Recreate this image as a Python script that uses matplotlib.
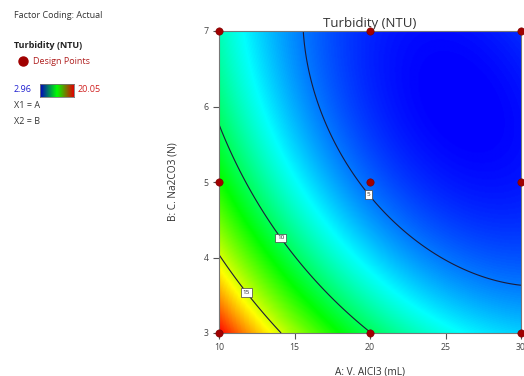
import numpy as np
import matplotlib
matplotlib.use("Agg")
import matplotlib.pyplot as plt
from matplotlib.colors import LinearSegmentedColormap

plt.rcParams['font.family'] = ['Open Sans', 'DejaVu Sans']

# ---- data ----
title = "Turbidity (NTU)"
x_label = "A: V. AlCl3 (mL)"
y_label = "B: C. Na2CO3 (N)"
x_ticks = [10, 15, 20, 25, 30]
y_ticks = [3, 4, 5, 6, 7]
design_a = [10, 20, 30, 10, 20, 30, 10, 20, 30]
design_b = [3, 3, 3, 5, 5, 5, 7, 7, 7]
y_min, y_max = 2.96, 20.05
contour_levels = [5, 10, 15]
label_a = [19.87, 14.24, 11.85]
label_b = [4.83, 4.28, 3.54]

# readings of the response surface (A, B, Y) taken from contours / colours
read_a = [10, 11.85, 13.97,
          10, 11.4, 14.24, 16.7, 20.1,
          15.41, 16.24, 16.69, 19.87, 23.31, 25.52, 27.73, 29.93,
          10, 10, 30, 30, 26, 27, 24, 20, 30]
read_b = [3.99, 3.54, 3.0,
          5.78, 5.16, 4.28, 3.70, 3.0,
          7.0, 6.2, 5.75, 4.83, 4.08, 3.88, 3.72, 3.66,
          3, 7, 3, 7, 6.2, 5.5, 6.8, 7, 5]
read_y = [15, 15, 15,
          10, 10, 10, 10, 10,
          5, 5, 5, 5, 5, 5, 5, 5,
          20.05, 8.5, 6.5, 3.6, 2.96, 3.1, 3.2, 3.6, 3.3]


def terms(a, b):
    x1 = (np.asarray(a) - 20) / 10
    x2 = (np.asarray(b) - 5) / 2
    return np.stack([np.ones_like(x1), x1, x2, x1 * x2, x1 ** 2, x2 ** 2,
                     x1 ** 2 * x2, x1 * x2 ** 2, x1 ** 3, x2 ** 3], axis=-1)


coef, *_ = np.linalg.lstsq(terms(read_a, read_b), np.asarray(read_y, float), rcond=None)

fig = plt.figure(figsize=(5.24, 3.76), dpi=100)
ax = fig.add_axes([219 / 524, 43 / 376, 302 / 524, 302 / 376])

ga = np.linspace(10, 30, 301)
gb = np.linspace(3, 7, 301)
GA, GB = np.meshgrid(ga, gb)
Z = terms(GA, GB) @ coef

cmap = LinearSegmentedColormap.from_list(
    "de", ["#0000ff", "#00ffff", "#00ff00", "#ffff00", "#ff0000"])
ax.imshow(Z, extent=[10, 30, 3, 7], origin="lower", aspect="auto",
          cmap=cmap, vmin=y_min, vmax=y_max, interpolation="bilinear")
cs = ax.contour(GA, GB, Z, levels=contour_levels, colors="#1b1b3a", linewidths=0.8)
lbls = ax.clabel(cs, fmt="%d", fontsize=4.5, inline=False,
                 manual=list(zip(label_a, label_b)))
for t in lbls:
    t.set_rotation(0)
    t.set_bbox(dict(boxstyle="square,pad=0.3", fc="white", ec="#444444", lw=0.5))
    t.set_color("#222222")

ax.scatter(design_a, design_b, s=28, color="#a00000", zorder=5, clip_on=False,
           edgecolors="#7a0000", linewidths=0.4)

ax.set_xlim(10, 30)
ax.set_ylim(3, 7)
ax.set_xticks(x_ticks)
ax.set_yticks(y_ticks)
ax.tick_params(labelsize=6.3, colors="#555555", length=4, width=0.8, labelcolor="#444444")
for s in ax.spines.values():
    s.set_color("#777777")
    s.set_linewidth(0.8)
ax.set_xlabel(x_label, fontsize=7.3, color="#333333", labelpad=10)
ax.set_ylabel(y_label, fontsize=7.3, color="#333333", labelpad=18)
ax.set_title(title, fontsize=9.5, color="#333333", pad=3)

# left legend
fs = 6.5
fig.text(14 / 524, 1 - 16 / 376, "Factor Coding: Actual", fontsize=fs, color="#333333", va="center")
fig.text(14 / 524, 1 - 46 / 376, "Turbidity (NTU)", fontsize=fs, color="#222222",
         va="center", fontweight="bold")
fig.add_artist(plt.Line2D([23 / 524], [1 - 61 / 376], marker="o", markersize=6.5,
                          color="#a00000", transform=fig.transFigure))
fig.text(33 / 524, 1 - 61 / 376, "Design Points", fontsize=fs, color="#b02020", va="center")
fig.text(14 / 524, 1 - 90 / 376, f"{y_min:.2f}", fontsize=fs, color="#2020d0", va="center")
cax = fig.add_axes([40 / 524, 1 - 97 / 376, 34 / 524, 13 / 376])
cax.imshow(np.linspace(0, 1, 100)[None, :], aspect="auto", cmap=LinearSegmentedColormap.from_list(
    "lg", ["#0000c0", "#00ff00", "#e00000"]), extent=[0, 1, 0, 1])
cax.set_xticks([])
cax.set_yticks([])
for s in cax.spines.values():
    s.set_color("#777777")
    s.set_linewidth(0.6)
fig.text(78 / 524, 1 - 90 / 376, f"{y_max:.2f}", fontsize=fs, color="#d02020", va="center")
fig.text(14 / 524, 1 - 105 / 376, "X1 = A", fontsize=fs, color="#333333", va="center")
fig.text(14 / 524, 1 - 121 / 376, "X2 = B", fontsize=fs, color="#333333", va="center")

fig.savefig("out.png", dpi=100)
